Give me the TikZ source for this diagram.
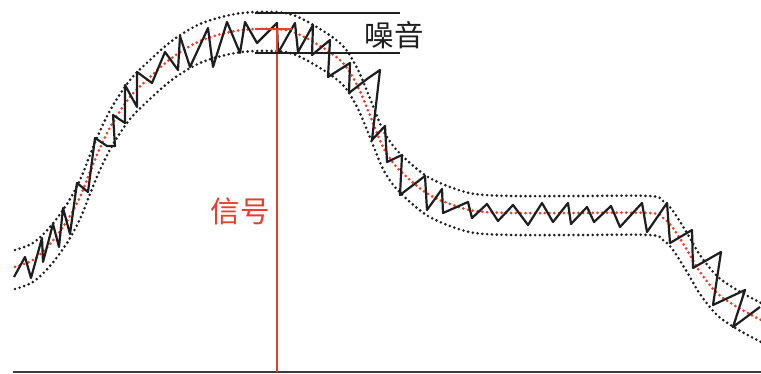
\documentclass[tikz,border=0pt]{standalone}
\usepackage{fontspec}
\newfontfamily\cjk{Noto Sans CJK SC}
\definecolor{sigred}{RGB}{232,62,42}
\definecolor{ink}{RGB}{30,30,30}
\definecolor{basegray}{RGB}{60,60,60}
\begin{document}
\begin{tikzpicture}[x=1pt,y=-1pt,
  envelope/.style={ink, line width=2.9pt, dash pattern=on 0pt off 4.8pt, line cap=round},
  centreline/.style={sigred, line width=3.0pt, dash pattern=on 0pt off 4.8pt, line cap=round},
  noise/.style={ink, line width=2.2pt, line join=round},
  marker/.style={sigred, line width=2.1pt},
  bracket/.style={ink, line width=1.9pt},
  axis/.style={basegray, line width=2.6pt},
  label/.style={font=\cjk\fontsize{29.5}{30}\selectfont, inner sep=0pt}]
\useasboundingbox (0,0) rectangle (761,374);
\fill[white] (0,0) rectangle (761,374);

% envelopes and centre signal (vertical shifts of the same curve)
\foreach \sh/\st in {17pt/envelope, -22pt/envelope, 0pt/centreline}{
  \draw[\st, yshift=\sh] plot[smooth, tension=0.55] coordinates {
    (15,267) (33,260) (50,244) (67,221) (80,197) (90,172) (100,148) (112,124)
    (130,97) (150,77) (173,57) (200,41) (230,32) (257,29) (290,31) (320,46)
    (343,63) (357,85) (367,108) (375,128) (383,147) (394,164) (410,180)
    (428,194) (450,204) (475,211) (513,213) (580,213) (650,213) (663,218)
    (673,228) (687,250) (700,272) (717,293) (737,307) (761,320)};
}

% noisy signal
\draw[noise] (14,277) -- (25,257) -- (31,278) -- (42,238) -- (43,262) -- (53,224)
  -- (59,247) -- (63,208) -- (70,234) -- (77,183) -- (88,192) -- (95,138)
  -- (107,146) -- (115,146) -- (113,115) -- (125,123) -- (125,85) -- (137,107)
  -- (137,72) -- (152,83) -- (165,52) -- (178,70) -- (180,36) -- (190,67)
  -- (208,28) -- (213,67) -- (227,22) -- (240,53) -- (245,22) -- (257,43)
  -- (277,23) -- (278,53) -- (295,23) -- (298,52) -- (313,25) -- (312,55)
  -- (330,40) -- (328,77) -- (350,63) -- (349,93) -- (367,79) -- (380,70)
  -- (372,140) -- (385,126) -- (387,162) -- (402,155) -- (400,195) -- (425,176)
  -- (427,210) -- (442,189) -- (443,213) -- (468,202) -- (472,218) -- (487,204)
  -- (498,221) -- (513,205) -- (528,225) -- (542,203) -- (553,222) -- (568,203)
  -- (571,224) -- (587,207) -- (594,222) -- (611,206) -- (620,227) -- (642,203)
  -- (647,232) -- (667,203) -- (670,243) -- (692,230) -- (693,268) -- (721,252)
  -- (713,305) -- (745,290) -- (733,327) -- (760,307);

% baseline
\coordinate (axL) at (13,372);
\coordinate (axR) at (761,372);
\draw[axis] (axL) -- (axR);

% signal amplitude marker
\coordinate (peakL) at (255,29);
\coordinate (peakR) at (292,29);
\coordinate (peak) at (277,29);
\coordinate (foot) at (277,372);
\draw[marker] (peakL) -- (peakR);
\draw[marker] (peak) -- (foot);

% noise band marker
\coordinate (nTopL) at (255,13);
\coordinate (nTopR) at (400,13);
\coordinate (nBotL) at (255,53);
\coordinate (nBotR) at (400,53);
\draw[bracket] (nTopL) -- (nTopR);
\draw[bracket] (nBotL) -- (nBotR);

\node[label, text=ink] (noiselabel) at (394,35) {噪音};
\node[label, text=sigred] (signallabel) at (240,211) {信号};
\end{tikzpicture}
\end{document}
